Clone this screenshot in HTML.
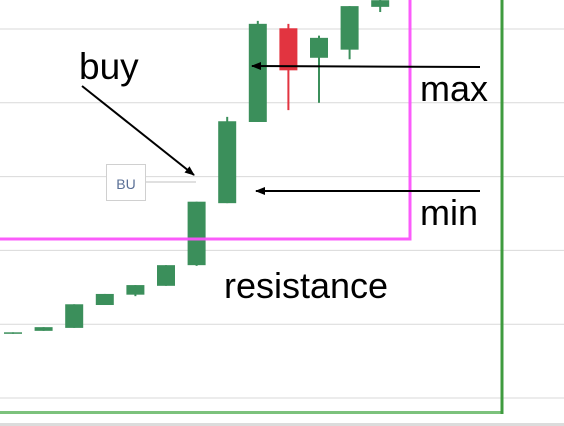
<!DOCTYPE html>
<html><head><meta charset="utf-8"><style>
html,body{margin:0;padding:0;background:#fff;}
svg{display:block;}
text{font-family:"Liberation Sans",sans-serif;}
</style></head><body>
<svg id="chart" width="564" height="426" viewBox="0 0 564 426">
<g id="grid"></g>
<g id="candles"></g>
<rect x="0" y="423" width="564" height="3" fill="#dcdcdc"/>
<polyline points="0,239 410,239 410,0" fill="none" stroke="#fb53fb" stroke-width="3" opacity="0.95"/>
<polyline points="0,412.5 502,412.5" fill="none" stroke="#7cc27c" stroke-width="3"/>
<line x1="502" y1="0" x2="502" y2="414" stroke="#3f9b3f" stroke-width="3"/>
<defs><marker id="ah" markerWidth="10" markerHeight="8" refX="9" refY="4" orient="auto" markerUnits="userSpaceOnUse"><path d="M0,0 L10,4 L0,8 z" fill="#000"/></marker></defs>
<line x1="480" y1="67" x2="252" y2="66" stroke="#000" stroke-width="2" marker-end="url(#ah)"/>
<line x1="480" y1="191" x2="256" y2="191" stroke="#000" stroke-width="2" marker-end="url(#ah)"/>
<line x1="82" y1="86" x2="194" y2="175" stroke="#000" stroke-width="2" marker-end="url(#ah)"/>
<line x1="145" y1="182" x2="196" y2="182" stroke="#e0e0e0" stroke-width="2"/>
<rect x="106.5" y="164.5" width="39" height="36" fill="#fff" stroke="#d0d0d0"/>
<text x="126" y="189" font-size="14" fill="#5a6f96" text-anchor="middle">BU</text>
<text x="79" y="79" font-size="37" fill="#000">buy</text>
<text x="420" y="101" font-size="36" fill="#000">max</text>
<text x="420" y="225" font-size="36" fill="#000">min</text>
<text x="224" y="298" font-size="36" fill="#000">resistance</text>
</svg>
<script>
const opens =  [8.7, 9.1, 9.5, 12.6, 14.0, 15.2, 18.0, 26.4, 37.4, 50.1, 46.1, 47.2, 53.0];
const closes = [8.9, 9.6, 12.7, 14.1, 15.3, 18.0, 26.6, 37.5, 50.7, 44.4, 48.8, 53.1, 53.9];
const highs =  [8.9, 9.6, 12.7, 14.1, 15.3, 18.0, 26.6, 38.1, 51.1, 50.7, 49.1, 53.1, 55.0];
const lows =   [8.7, 9.1, 9.5, 12.6, 13.8, 15.2, 17.9, 26.4, 37.4, 39.0, 40.0, 45.9, 52.3];
const gridValues = [0, 10, 20, 30, 40, 50];
const NS = "http://www.w3.org/2000/svg";
function yScale(p){ return 398 - p * 7.38; }
function xScale(i){ return 13 + i * 30.6; }
const grid = document.getElementById('grid');
gridValues.forEach(v => {
  const l = document.createElementNS(NS, 'line');
  
  
  l.setAttribute('x1', 0); l.setAttribute('x2', 564);
  l.setAttribute('y1', yScale(v)); l.setAttribute('y2', yScale(v));
  l.setAttribute('stroke', '#d9d9d9'); l.setAttribute('stroke-width', 1);
  grid.appendChild(l);
});
const cg = document.getElementById('candles');
opens.forEach((o, i) => {
  const c = closes[i];
  const col = c >= o ? '#3b8f5b' : '#e23440';
  const x = xScale(i);
  const w = document.createElementNS(NS, 'line');
  
  
  w.setAttribute('x1', x); w.setAttribute('x2', x);
  w.setAttribute('y1', yScale(highs[i])); w.setAttribute('y2', yScale(lows[i]));
  w.setAttribute('stroke', col); w.setAttribute('stroke-width', 2);
  cg.appendChild(w);
  const r = document.createElementNS(NS, 'rect');
  
  
  const top = yScale(Math.max(o, c));
  r.setAttribute('x', x - 9); r.setAttribute('width', 18);
  r.setAttribute('y', top);
  r.setAttribute('height', Math.max(1.5, yScale(Math.min(o, c)) - top));
  r.setAttribute('fill', col);
  cg.appendChild(r);
});
</script>
</body></html>
